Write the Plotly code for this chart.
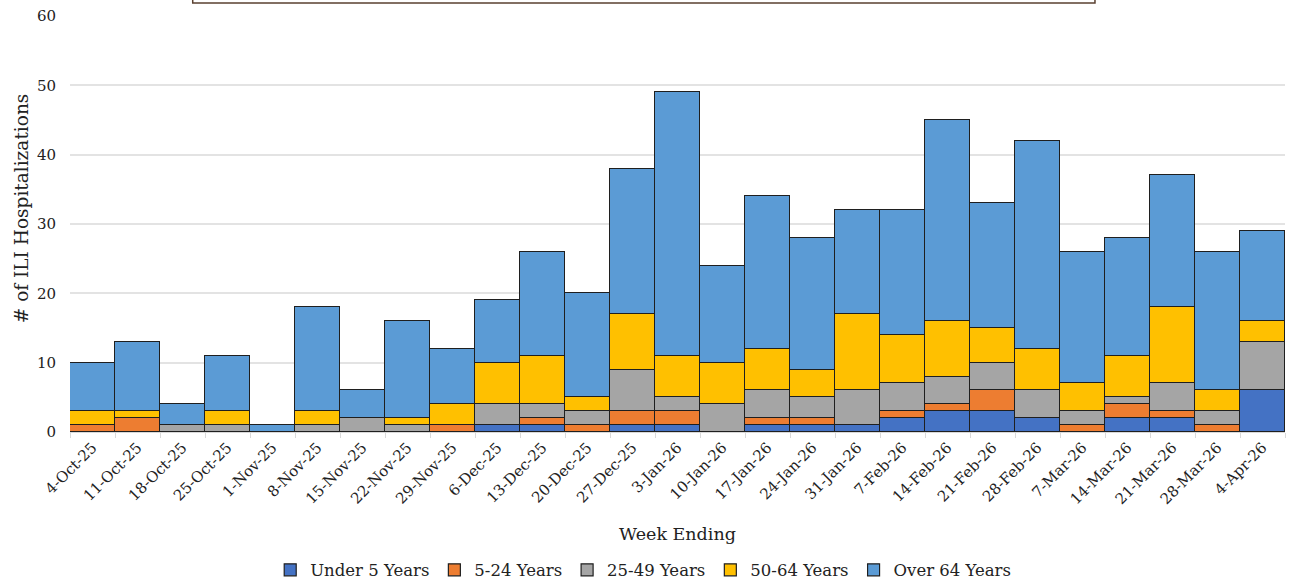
import plotly.graph_objects as go

weeks = ["4-Oct-25", "11-Oct-25", "18-Oct-25", "25-Oct-25", "1-Nov-25", "8-Nov-25",
         "15-Nov-25", "22-Nov-25", "29-Nov-25", "6-Dec-25", "13-Dec-25", "20-Dec-25",
         "27-Dec-25", "3-Jan-26", "10-Jan-26", "17-Jan-26", "24-Jan-26", "31-Jan-26",
         "7-Feb-26", "14-Feb-26", "21-Feb-26", "28-Feb-26", "7-Mar-26", "14-Mar-26",
         "21-Mar-26", "28-Mar-26", "4-Apr-26"]

under_5 = [0, 0, 0, 0, 0, 0, 0, 0, 0, 1, 1, 0, 1, 1, 0, 1, 1, 1, 2, 3, 3, 2, 0, 2, 2, 0, 6]
age_5_24 = [1, 2, 0, 0, 0, 0, 0, 0, 1, 0, 1, 1, 2, 2, 0, 1, 1, 0, 1, 1, 3, 0, 1, 2, 1, 1, 0]
age_25_49 = [0, 0, 1, 1, 0, 1, 2, 1, 0, 3, 2, 2, 6, 2, 4, 4, 3, 5, 4, 4, 4, 4, 2, 1, 4, 2, 7]
age_50_64 = [2, 1, 0, 2, 0, 2, 0, 1, 3, 6, 7, 2, 8, 6, 6, 6, 4, 11, 7, 8, 5, 6, 4, 6, 11, 3, 3]
over_64 = [7, 10, 3, 8, 1, 15, 4, 14, 8, 9, 15, 15, 21, 38, 14, 22, 19, 15, 18, 29, 18, 30, 19, 17, 19, 20, 13]

series = [
    ("Under 5 Years", under_5, "#4472C4"),
    ("5-24 Years", age_5_24, "#ED7D31"),
    ("25-49 Years", age_25_49, "#A5A5A5"),
    ("50-64 Years", age_50_64, "#FFC000"),
    ("Over 64 Years", over_64, "#5B9BD5"),
]

font_family = "DejaVu Serif"

fig = go.Figure()
for name, vals, color in series:
    fig.add_trace(go.Bar(
        x=weeks, y=vals, name=name,
        marker=dict(color=color, line=dict(color="#1f1f1f", width=1.2)),
    ))

fig.update_layout(
    width=1289, height=580,
    barmode="stack", bargap=0,
    plot_bgcolor="white", paper_bgcolor="white",
    margin=dict(l=70, r=4, t=16, b=148, autoexpand=False),
    font=dict(family=font_family, color="#222222"),
    legend=dict(orientation="h", xref="container", x=0.499, xanchor="center",
                yref="paper", y=-0.332, yanchor="middle",
                font=dict(size=16.5, family=font_family), traceorder="normal",
                itemwidth=30),
    xaxis=dict(
        type="category", tickangle=-45, tickfont=dict(size=15), automargin=False,
        title=dict(text="Week Ending", font=dict(size=17.5), standoff=20),
        showgrid=False, ticks="outside", tickson="boundaries", ticklen=5,
        tickcolor="#d9d9d9", showline=True, linecolor="#d9d9d9",
    ),
    yaxis=dict(
        range=[0, 60], dtick=10, tickfont=dict(size=15), automargin=False,
        ticklabelstandoff=13,
        showgrid=True, gridcolor="#e3e3e3", gridwidth=1.5, zeroline=False,
    ),
    annotations=[dict(text="# of ILI Hospitalizations", xref="paper", yref="paper",
                      x=-0.0403, y=0.538, xanchor="center", yanchor="middle",
                      textangle=-90, showarrow=False, font=dict(size=18.5))],
    shapes=[dict(type="rect", xref="paper", yref="paper",
                 x0=0.101, x1=0.8436, y0=1.031, y1=1.2,
                 line=dict(color="#5a4030", width=1.5), fillcolor="white", layer="above")],
)

fig.write_html(
    "out.html",
    config={"displayModeBar": False},
    post_script="document.body.style.margin='0';document.body.style.overflow='hidden';",
)
